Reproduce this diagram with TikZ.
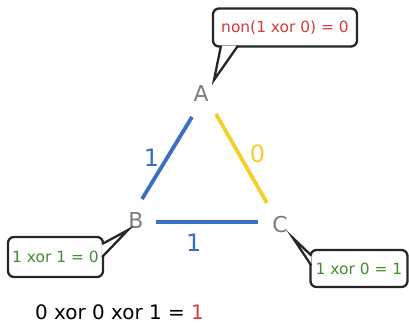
\documentclass[tikz,border=0pt]{standalone}
\usepackage{fontspec}
\setmainfont{DejaVu Sans}
\usetikzlibrary{positioning}
\definecolor{edgeblue}{HTML}{3B6FC5}
\definecolor{edgeyellow}{HTML}{F3CF2A}
\definecolor{vtxgray}{HTML}{7C7C7C}
\definecolor{resred}{HTML}{D43B3B}
\definecolor{resgreen}{HTML}{3F8F2F}
\tikzset{
  vertex/.style={text=vtxgray, font=\fontsize{22}{24}\selectfont, inner sep=0pt},
  oneedge/.style={edgeblue, line width=3.8bp},
  zeroedge/.style={edgeyellow, line width=3.8bp},
  weight/.style={font=\fontsize{24}{26}\selectfont, inner sep=0pt},
  bubble/.style={draw=black!85, line width=2.3bp, rounded corners=6bp, fill=white, inner sep=0pt, font=\fontsize{15.5}{17}\selectfont},
  tail/.style={draw=black!85, line width=2.3bp, fill=white, line join=miter}
}

\begin{document}
\begin{tikzpicture}[x=1bp, y=-1bp]
  \useasboundingbox (0,0) rectangle (409,324);

  \node (A) [vertex] at (201,93.5) {A};
  \node (B) [vertex] at (136,221) {B};
  \node (C) [vertex] at (280,225) {C};

  \draw [oneedge] ([shift={(-9,23.5)}]A.center) -- node[weight, text=edgeblue, left=6bp] (wAB) {1} ([shift={(6,-22)}]B.center);
  \draw [zeroedge] ([shift={(15,20.5)}]A.center) -- node[weight, text=edgeyellow, pos=0.45, right=9bp] (wAC) {0} ([shift={(-13,-22)}]C.center);
  \draw [oneedge] ([shift={(20,1)}]B.center) -- node[weight, text=edgeblue, pos=0.37, below=10bp] (wBC) {1} ([shift={(-22,-3)}]C.center);

  % bubbles
  \node (top) [bubble, minimum width=144bp, minimum height=38bp, text=resred] at (285,27.5) {non(1 xor 0) = 0};
  \coordinate (topTip) at ([shift={(13,-13.5)}]A.center);
  \draw [tail] ([shift={(-64,-2)}]top.south) -- (topTip) -- ([shift={(-47,-2)}]top.south);

  \node (left) [bubble, minimum width=95bp, minimum height=40bp, text=resgreen] at (55.5,257) {1 xor 1 = 0};
  \coordinate (leftTip) at ([shift={(-8,9)}]B.center);
  \draw [tail] ([shift={(-2,-13)}]left.east) -- (leftTip) -- ([shift={(-2,0)}]left.east);

  \node (right) [bubble, minimum width=97bp, minimum height=37bp, text=resgreen] at (359,268.5) {1 xor 0 = 1};
  \coordinate (rightTip) at ([shift={(13,13)}]C.center);
  \draw [tail] ([shift={(2,-13)}]right.west) -- (rightTip) -- ([shift={(2,-3)}]right.west);

  \node (sum) [font=\fontsize{20}{22}\selectfont, inner sep=0pt, anchor=base] at (119.5,319) {0 xor 0 xor 1 = \textcolor{resred}{1}};
\end{tikzpicture}
\end{document}
